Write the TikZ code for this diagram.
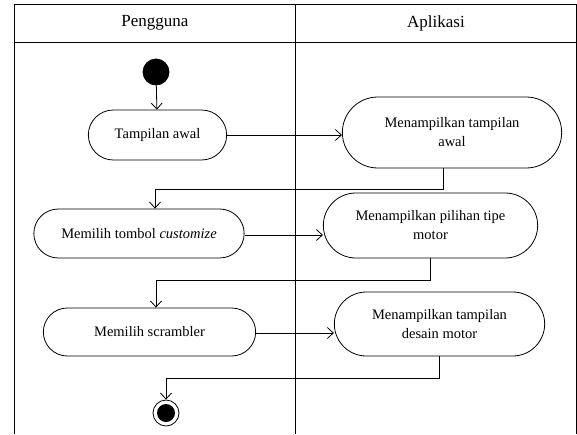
\documentclass[tikz,border=0pt]{standalone}
\usepackage{fontspec}
\setmainfont{Liberation Serif}
\usetikzlibrary{shapes.misc,arrows.meta}

\begin{document}
\begin{tikzpicture}[x=1pt, y=-1pt, line width=0.8pt, every node/.style ={shape=rounded rectangle, draw, align=center, font=\fontsize{14.5}{19}\selectfont}, lane/.style={draw=none, shape=rectangle, font=\fontsize{17}{20}\selectfont}, >={Straight Barb[length=6pt,width=11pt]}]
	\useasboundingbox (0,0) rectangle (577,434);
	% lanes
	\draw (14,434) -- (14,4) -- (576,4) -- (576,434);
	\draw (14,42) -- (576,42);
	\draw (295.5,4) -- (295.5,434);
	\node[lane] (pengguna) at (155,23) {Pengguna};
	\node[lane] (aplikasi) at (436,23) {Aplikasi};
	% activities
	\node[shape=circle, fill=black, minimum size=26pt, inner sep=0pt] (mulai) at (156,72) {};
	\node[minimum width=145pt, minimum height=50pt] (tampilan awal) at (157.5,135) {Tampilan awal};
	\node[minimum width=226pt, minimum height=71pt] (menampilkan awal) at (452,132.5) {Menampilkan tampilan\\awal};
	\node[minimum width=217pt, minimum height=49pt] (customize) at (139,233.5) {Memilih tombol \textit{customize}};
	\node[minimum width=221pt, minimum height=65pt] (pilihan tipe) at (430.5,225.5) {Menampilkan pilihan tipe\\motor};
	\node[minimum width=219pt, minimum height=48pt] (scrambler) at (149.5,332) {Memilih scrambler};
	\node[minimum width=217pt, minimum height=64pt] (desain motor) at (439.5,324) {Menampilkan tampilan\\desain motor};
	\node[shape=circle, minimum size=26pt, inner sep=0pt, path picture={\fill (path picture bounding box.center) circle (9pt);}] (selesai) at (166,413) {};
	% flow
	\draw[->] (mulai) -- (tampilan awal);
	\draw[->] ([yshift=-0pt]tampilan awal.east) -- (tampilan awal.east -| menampilkan awal.west);
	\draw[->] ([xshift=-8.5pt]menampilkan awal.south) -- ++(0,21) -| ([xshift=16pt]customize.north);
	\draw[->] ([yshift=-1.5pt]customize.east) -- ([yshift=-1.5pt]customize.east -| pilihan tipe.west);
	\draw[->] (pilihan tipe.south) -- ++(0,22) -| ([xshift=6.5pt]scrambler.north);
	\draw[->] ([yshift=-1pt]scrambler.east) -- ([yshift=-1pt]scrambler.east -| desain motor.west);
	\draw[->] (desain motor.south) -- ++(0,22) -| (selesai.north);
\end{tikzpicture}
\end{document}
